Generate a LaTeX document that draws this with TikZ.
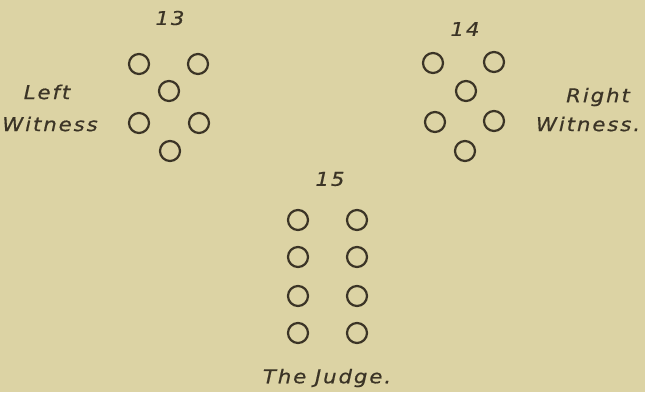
\documentclass[tikz,border=0pt]{standalone}
\usepackage{fontspec}
\newfontfamily\hand[LetterSpace=10,FakeStretch=1.12,FakeBold=0.6]{DejaVu Sans}
\definecolor{paper}{HTML}{DCD3A4}
\definecolor{ink}{HTML}{3B3426}
\begin{document}
\begin{tikzpicture}[x=1pt,y=-1pt,
  seat/.style={circle,draw=ink,line width=2.2pt,minimum size=20pt,inner sep=0pt},
  lbl/.style={text=ink,font=\hand\itshape\fontsize{19}{21}\selectfont,inner sep=0pt}]
\fill[paper] (0,0) rectangle (645,392);
\useasboundingbox (0,0) rectangle (645,392);
% figure 13
\node[lbl] (n13) at (170,18) {13};
\node[seat] (a1) at (139,64) {};
\node[seat] (a2) at (198,64) {};
\node[seat] (a3) at (169,91) {};
\node[seat] (a4) at (139,123) {};
\node[seat] (a5) at (199,123) {};
\node[seat] (a6) at (170,151) {};
\node[lbl] (lw1) at (47,92) {Left};
\node[lbl] (lw2) at (50,124) {Witness};
% figure 14
\node[lbl] (n14) at (465,29) {14};
\node[seat] (b1) at (433,63) {};
\node[seat] (b2) at (494,62) {};
\node[seat] (b3) at (466,91) {};
\node[seat] (b4) at (435,122) {};
\node[seat] (b5) at (494,121) {};
\node[seat] (b6) at (465,151) {};
\node[lbl] (rw1) at (598,97) {Right};
\node[lbl] (rw2) at (588,124) {Witness.};
% figure 15
\node[lbl] (n15) at (330,179) {15};
\foreach \y [count=\i] in {220,257,296,333}{
  \node[seat] (c\i l) at (298,\y) {};
  \node[seat] (c\i r) at (357,\y) {};
}
\node[lbl] (jd) at (327,378) {The Judge.};
\end{tikzpicture}
\end{document}
